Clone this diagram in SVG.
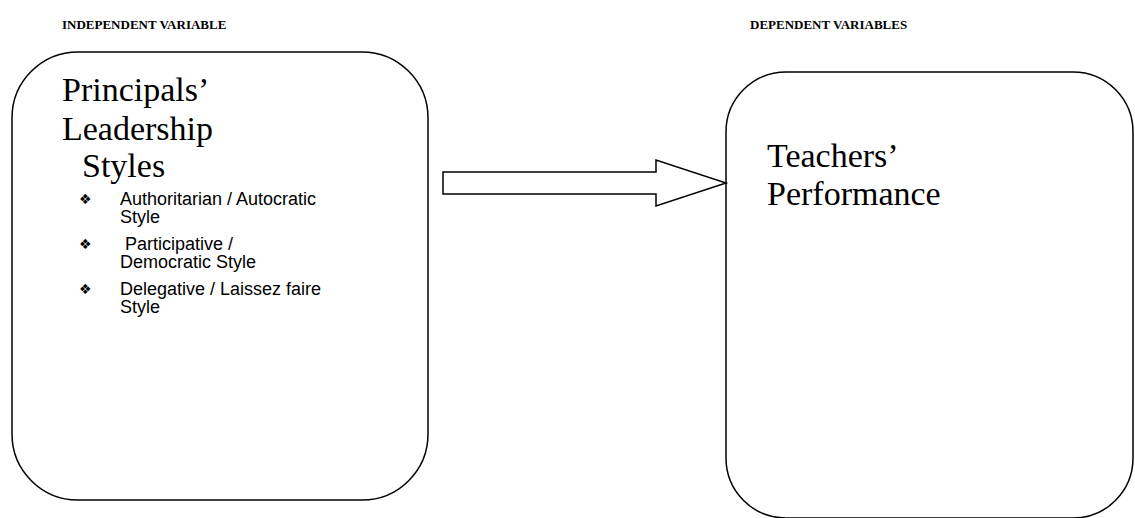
<svg xmlns="http://www.w3.org/2000/svg" width="1135" height="518" viewBox="0 0 1135 518">
<style>
.box{fill:#fff;stroke:#000;stroke-width:1.5}
.hdr{font-family:"Liberation Serif",serif;font-weight:bold;font-size:13px;fill:#000}
.big{font-family:"Liberation Serif",serif;font-size:34px;fill:#000}
.sm{font-family:"Liberation Sans",sans-serif;font-size:18px;fill:#000}
.bul{font-family:"DejaVu Sans",sans-serif;font-size:14px;fill:#000}
</style>
<rect width="1135" height="518" fill="#fff"/>
<text class="hdr" x="62" y="29">INDEPENDENT VARIABLE</text>
<text class="hdr" x="750" y="29">DEPENDENT VARIABLES</text>
<g id="node-principals">
<rect class="box" x="12" y="52" width="416" height="448" rx="66" ry="66"/>
<text class="big" x="62" y="101">Principals’</text>
<text class="big" x="62" y="140">Leadership</text>
<text class="big" x="82" y="177">Styles</text>
<text class="bul" x="79" y="204">❖</text>
<text class="sm" x="120" y="205">Authoritarian / Autocratic</text>
<text class="sm" x="120" y="223">Style</text>
<text class="bul" x="79" y="249">❖</text>
<text class="sm" x="120" y="250" xml:space="preserve"> Participative /</text>
<text class="sm" x="120" y="268">Democratic Style</text>
<text class="bul" x="79" y="294">❖</text>
<text class="sm" x="120" y="295">Delegative / Laissez faire</text>
<text class="sm" x="120" y="313">Style</text>
</g>
<g id="node-teachers">
<rect class="box" x="726" y="72" width="407" height="446" rx="60" ry="60"/>
<text class="big" x="767" y="167">Teachers’</text>
<text class="big" x="767" y="205">Performance</text>
</g>
<g id="connectors">
<polygon class="box" points="443,172 656,172 656,160 726,183 656,206 656,194 443,194"/>
</g>
</svg>
